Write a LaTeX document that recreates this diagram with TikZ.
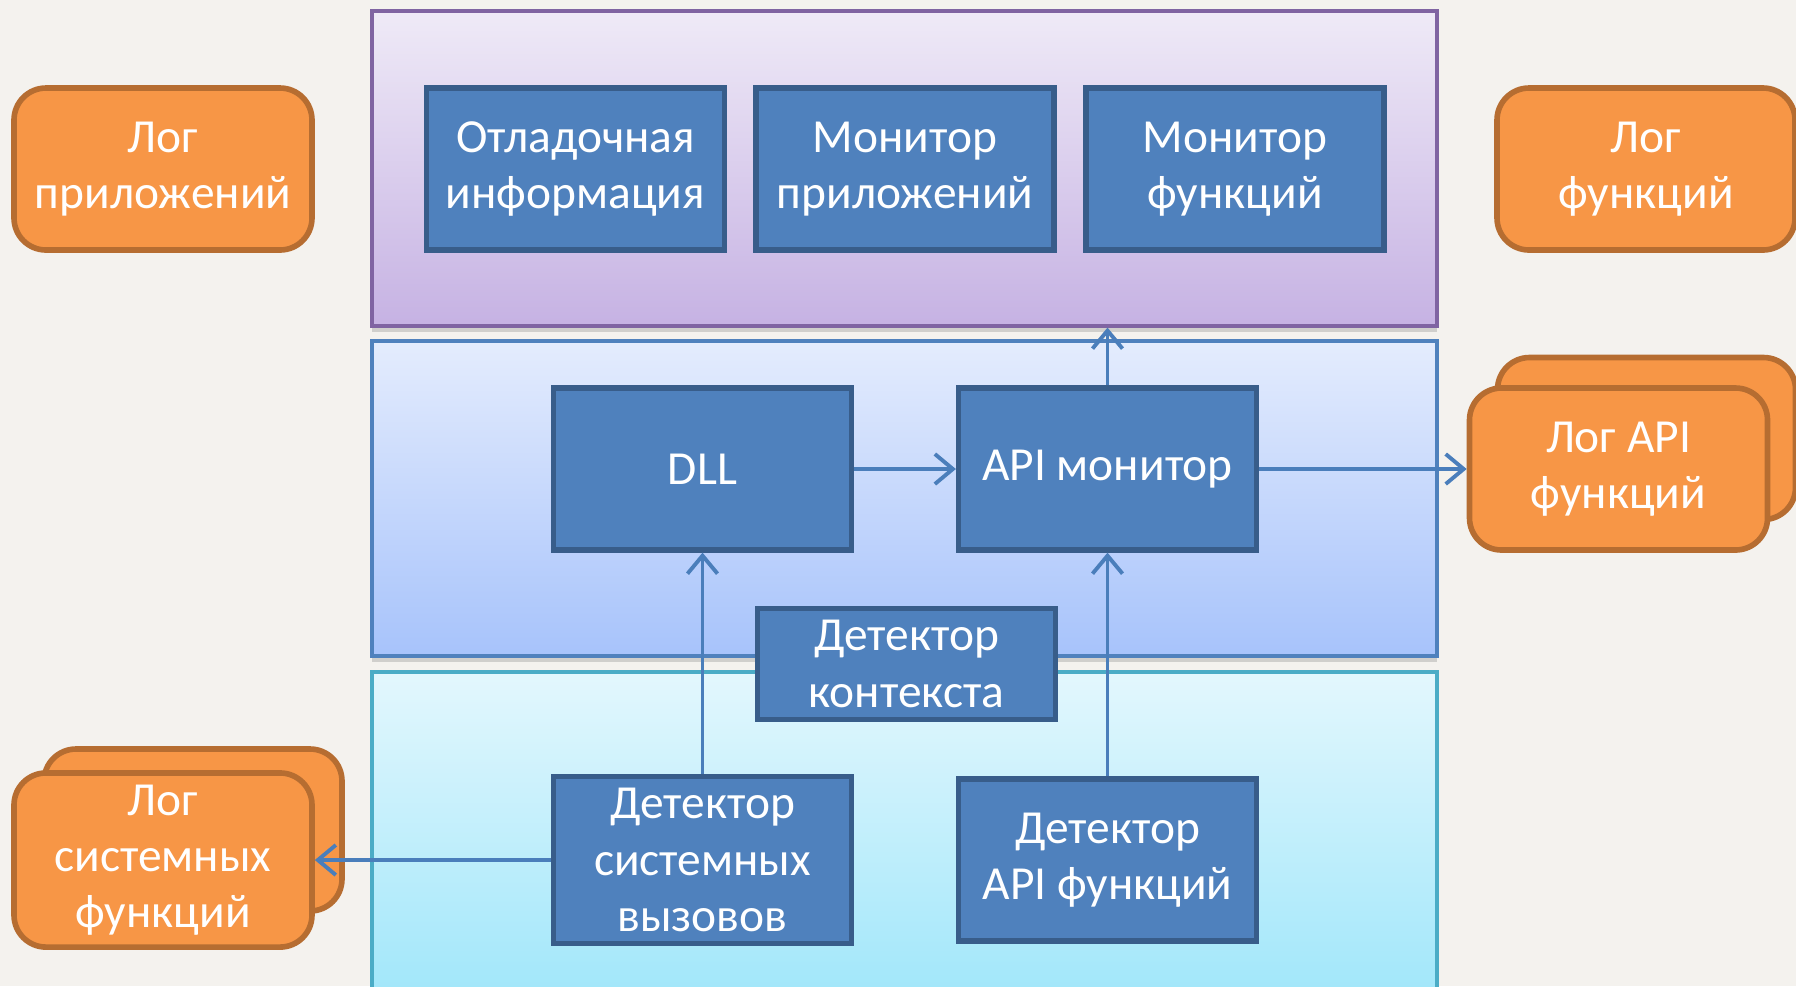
\documentclass[tikz,border=0pt]{standalone}
\usepackage{fontspec}
\setmainfont{Carlito}
\usetikzlibrary{arrows.meta,shadows}
\definecolor{bgpaper}{HTML}{F4F2EE}
\definecolor{blkfill}{HTML}{4F81BD}
\definecolor{blkline}{HTML}{385D8A}
\definecolor{logfill}{HTML}{F79646}
\definecolor{logline}{HTML}{B66D31}
\definecolor{arrline}{HTML}{4A7EBB}
\definecolor{purpline}{HTML}{8064A2}
\definecolor{purptop}{HTML}{EFEAF7}
\definecolor{purpbot}{HTML}{C6B2E3}
\definecolor{blueline}{HTML}{4F81BD}
\definecolor{bluetop}{HTML}{E4ECFD}
\definecolor{bluebot}{HTML}{A7C3FB}
\definecolor{cyanline}{HTML}{4BACC6}
\definecolor{cyantop}{HTML}{E3F7FD}
\definecolor{cyanbot}{HTML}{A2E7FA}
\begin{document}
\begin{tikzpicture}[
    panel/.style={rectangle, minimum width=10.65cm, minimum height=3.15cm, line width=0.9pt,
      drop shadow={opacity=0.3, shadow xshift=0pt, shadow yshift=-0.6mm}},
    blk/.style={rectangle, fill=blkfill, draw=blkline, line width=1.5pt, text=white,
      minimum width=2.98cm, minimum height=1.62cm, align=center, font=\fontsize{13.5}{16}\selectfont},
    logbox/.style={rectangle, rounded corners=0.32cm, fill=logfill, draw=logline, line width=1.6pt,
      text=white, minimum width=2.98cm, minimum height=1.62cm, align=center, font=\fontsize{13.5}{16}\selectfont},
    arr/.style={draw=arrline, line width=1.1pt, -{Straight Barb[length=1.8mm,width=3mm]}}
  ]
      \fill[bgpaper] (0,0) rectangle (17.96,-9.86);
      \useasboundingbox (0,0) rectangle (17.96,-9.86);

      \node[panel, draw=purpline, top color=purptop, bottom color=purpbot] (toppanel) at (9.045,-1.685){};
      \node[panel, draw=blueline, top color=bluetop, bottom color=bluebot] (midpanel) at (9.045,-4.985){};
      \node[panel, draw=cyanline, top color=cyantop, bottom color=cyanbot, minimum height=3.2cm] (botpanel) at (9.045,-8.32){};

      \node[blk] (dbginfo) at (5.755,-1.69){Отладочная\\информация};
      \node[blk] (appmon) at (9.05,-1.69){Монитор\\приложений};
      \node[blk] (funcmon) at (12.35,-1.69){Монитор\\функций};

      \node[blk] (dll) at (7.025,-4.69){DLL};
      \node[blk] (apimon) at (11.075,-4.69){API монитор};
      \node[blk, minimum height=1.04cm] (ctxdet) at (9.065,-6.64){Детектор\\контекста};
      \node[blk] (sysdet) at (7.025,-8.6){Детектор\\системных\\вызовов};
      \node[blk] (apidet) at (11.075,-8.6){Детектор\\API функций};

      \node[logbox] (applog) at (1.63,-1.69){Лог\\приложений};
      \node[logbox] (funclog) at (16.46,-1.69){Лог\\функций};
      \node[logbox] (apilogback) at (16.465,-4.385){};
      \node[logbox] (apilog) at (16.185,-4.69){Лог API\\функций};
      \node[logbox] (syslogback) at (1.93,-8.3){};
      \node[logbox] (syslog) at (1.63,-8.6){Лог\\системных\\функций};

      \draw[arr] (dll) -- (apimon);
      \draw[arr] (apimon.north) -- (apimon.north |- toppanel.south);
      \draw[arr] (apimon) -- (apilog);
      \draw[arr] (sysdet) -- (dll);
      \draw[arr] (apidet) -- (apimon);
      \draw[arr] (sysdet) -- (syslog);

    \end{tikzpicture}
\end{document}
